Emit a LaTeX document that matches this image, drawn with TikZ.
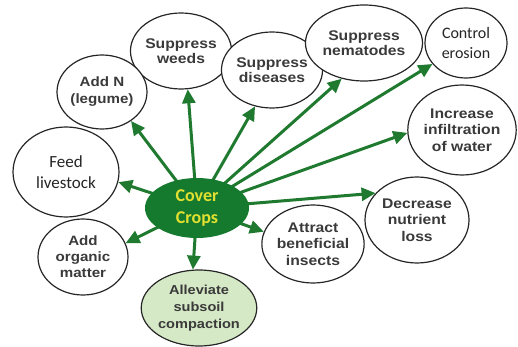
\documentclass[tikz,border=0pt]{standalone}
\usepackage{fontspec}
\usetikzlibrary{shapes.geometric,arrows.meta}
\newfontfamily\labfont{Liberation Sans}[FakeStretch=1.12]
\newfontfamily\calfont{Carlito}
\definecolor{arrowgreen}{HTML}{1F7A30}
\definecolor{ccgreen}{HTML}{167A2E}
\definecolor{ccyellow}{HTML}{E2E030}
\definecolor{labgray}{HTML}{3A3A3A}
\definecolor{palegreen}{HTML}{D6E9C6}
\tikzset{
  benefit/.style={ellipse, draw=black!85, line width=1.2pt, fill=white, inner sep=0pt,
    align=center, text=labgray, font=\labfont\bfseries\fontsize{14}{15}\selectfont},
  calbenefit/.style={benefit, text=black!85, font=\calfont\fontsize{17}{21}\selectfont},
  spoke/.style={draw=arrowgreen, line width=3pt, -{Triangle[length=14pt,width=13pt]}},
  hub/.style={ellipse, fill=ccgreen, inner sep=0pt, align=center, text=ccyellow,
    font=\calfont\bfseries\fontsize{18}{22}\selectfont}
}
\begin{document}
\begin{tikzpicture}[x=1pt,y=-1pt]
\useasboundingbox (0,0) rectangle (518,347);
% benefit nodes
\node[benefit, minimum width=86, minimum height=76] (weeds) at (181,51) {Suppress\\weeds};
\node[benefit, minimum width=90, minimum height=74, font=\labfont\bfseries\fontsize{13.5}{17}\selectfont] (addn) at (102,92) {Add N\\(legume)};
\node[calbenefit, minimum width=106, minimum height=90] (feed) at (66,172) {Feed\\livestock};
\node[benefit, minimum width=90, minimum height=76, font=\labfont\bfseries\fontsize{13.5}{16}\selectfont] (organic) at (83,257) {Add\\organic\\matter};
\node[benefit, minimum width=108, minimum height=76, fill=palegreen, font=\labfont\bfseries\fontsize{13}{17}\selectfont] (subsoil) at (199,308) {Alleviate\\subsoil\\compaction};
\node[benefit, minimum width=84, minimum height=76] (diseases) at (272,70) {Suppress\\diseases};
\node[benefit, minimum width=102, minimum height=76] (nema) at (364,43) {Suppress\\nematodes};
\node[calbenefit, minimum width=82, minimum height=70, font=\calfont\fontsize{16}{20}\selectfont] (erosion) at (466,43) {Control\\erosion};
\node[benefit, minimum width=106, minimum height=90, font=\labfont\bfseries\fontsize{14}{16.5}\selectfont] (infil) at (462,130) {Increase\\infiltration\\of water};
\node[benefit, minimum width=104, minimum height=86, font=\labfont\bfseries\fontsize{14}{16.5}\selectfont] (nutrient) at (417,220) {Decrease\\nutrient\\loss};
\node[benefit, minimum width=94, minimum height=78, font=\labfont\bfseries\fontsize{14}{16.5}\selectfont] (insects) at (313,244) {Attract\\beneficial\\insects};
% spokes
\coordinate (o) at (197,208);
\draw[spoke] (o) -- (feed.-11);
\draw[spoke] (o) -- (addn.-45);
\draw[spoke] (o) -- (weeds.-80);
\draw[spoke] (o) -- (diseases.-115);
\draw[spoke] (o) -- (nema.-122);
\draw[spoke] (o) -- (erosion.-148);
\draw[spoke] (o) -- (infil.-177);
\draw[spoke] (o) -- (nutrient.147);
\draw[spoke] (o) -- (insects.166);
\draw[spoke] (o) -- (subsoil.99);
\draw[spoke] (o) -- (organic.18);
% hub
\node[hub, minimum width=104, minimum height=60] (cc) at (o) {Cover\\Crops};
\end{tikzpicture}
\end{document}
